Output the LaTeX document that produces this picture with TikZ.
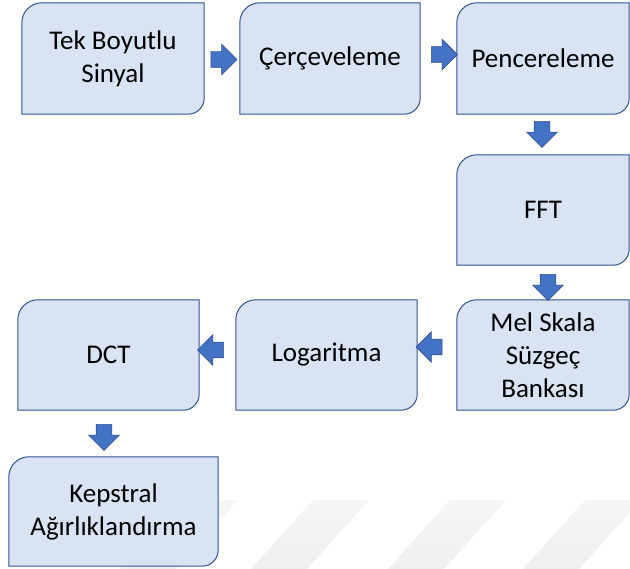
\documentclass[tikz,border=0pt]{standalone}
\usepackage{fontspec}
\setmainfont{Carlito}
\usetikzlibrary{shapes.arrows,calc,backgrounds}

\definecolor{boxfill}{HTML}{DAE3F3}
\definecolor{boxedge}{HTML}{2F5597}
\definecolor{arrfill}{HTML}{4472C4}
\definecolor{arredge}{HTML}{2F528F}
\definecolor{wmtop}{HTML}{F6F6F6}
\definecolor{wmbottom}{HTML}{EFEFEF}

\tikzset{
  stage/.style={inner sep=0pt, align=center, font=\fontsize{27}{33}\selectfont},
  stageshape/.style={fill=boxfill, draw=boxedge, line width=1pt},
  flowarrow/.style={single arrow, draw=arredge, fill=arrfill, line width=0.6pt,
    minimum height=26pt, minimum width=0pt, inner sep=7.5pt,
    single arrow head extend=7.5pt},
  stripe/.style={top color=wmtop, bottom color=wmbottom, draw=none}
}

% box with rounded top-left and bottom-right corners, drawn around a node
\newcommand\stagebox[1]{%
  \path[stageshape] ([yshift=-20pt]#1.north west)
    arc[start angle=180,end angle=90,radius=20pt] -- (#1.north east)
    -- ([yshift=16pt]#1.south east)
    arc[start angle=0,end angle=-90,radius=16pt] -- (#1.south west) -- cycle;}

\begin{document}
\begin{tikzpicture}[x=1pt,y=1pt]
\useasboundingbox (0,0) rectangle (630,569);

% faint diagonal stripes along the bottom
\begin{scope}[on background layer]
  \foreach \a in {182,313,450,585}{
    \shade[stripe] (\a,69) -- (\a+56,69) -- (\a-6,0) -- (\a-62,0) -- cycle;
  }
\end{scope}

% processing stages
\node[stage, minimum width=182pt, minimum height=111pt] (sig) at (113,510.5) {Tek Boyutlu\\Sinyal};
\node[stage, minimum width=180pt, minimum height=111pt] (frm) at (330,510.5) {Çerçeveleme};
\node[stage, minimum width=172pt, minimum height=111pt] (win) at (543,510.5) {Pencereleme};
\node[stage, minimum width=172pt, minimum height=110pt] (fft) at (543,359) {FFT};
\node[stage, minimum width=172pt, minimum height=110pt] (mel) at (543,214) {Mel Skala\\Süzgeç\\Bankası};
\node[stage, minimum width=181pt, minimum height=110pt] (log) at (326.5,214) {Logaritma};
\node[stage, minimum width=181pt, minimum height=110pt] (dct) at (108.5,214) {DCT};
\node[stage, minimum width=209pt, minimum height=109pt] (cep) at (113.5,57.5) {Kepstral\\Ağırlıklandırma};

\begin{scope}[on background layer]
  \foreach \n in {sig,frm,win,fft,mel,log,dct,cep}{\stagebox{\n}}
\end{scope}

% block arrows between consecutive stages
\node[flowarrow] (a1) at ($(sig.east)!0.5!(frm.west)+(-2,-1)$) {};
\node[flowarrow] (a2) at ($(frm.east)!0.5!(win.west)+(2,4)$) {};
\node[flowarrow, rotate=-90] (a3) at ($(win.south)!0.5!(fft.north)+(-1,4)$) {};
\node[flowarrow, rotate=-90] (a4) at ($(fft.south)!0.5!(mel.north)+(5,-1)$) {};
\node[flowarrow, rotate=180] (a5) at ($(mel.west)!0.5!(log.east)+(-4,8)$) {};
\node[flowarrow, rotate=180] (a6) at ($(log.west)!0.5!(dct.east)+(-3,5)$) {};
\node[flowarrow, rotate=-90] (a7) at ($(dct.south)!0.5!(cep.north)+(-7,0)$) {};
\end{tikzpicture}
\end{document}
